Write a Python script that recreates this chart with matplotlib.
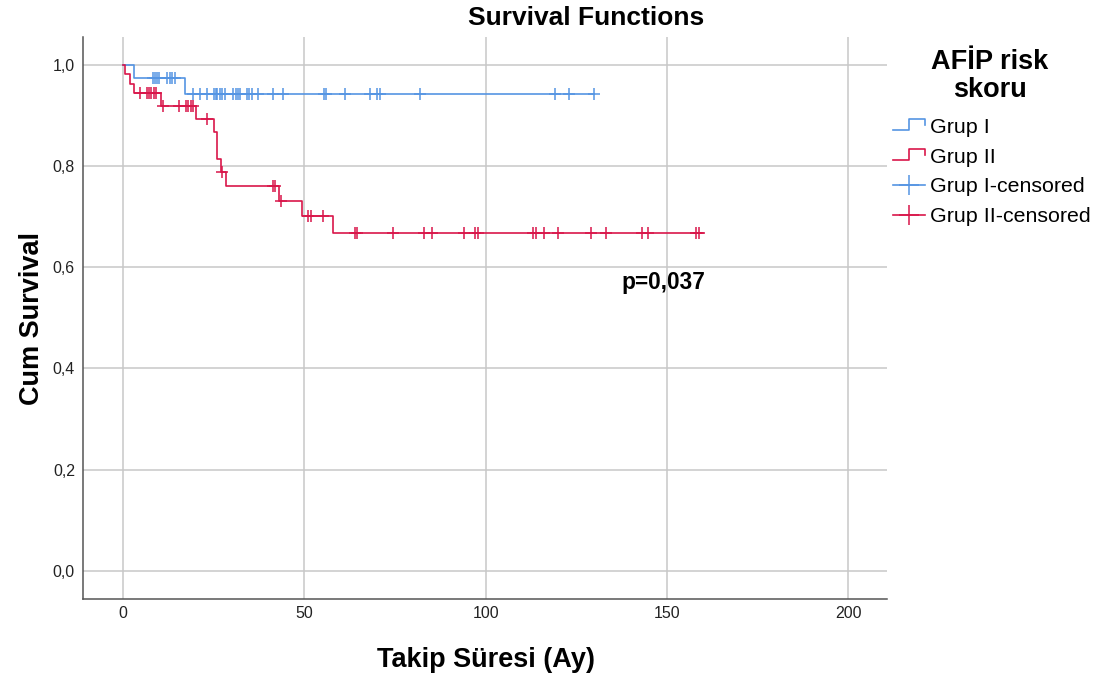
import matplotlib
matplotlib.use("Agg")
import matplotlib.pyplot as plt
import numpy as np
from matplotlib.lines import Line2D
from matplotlib.legend_handler import HandlerBase

plt.rcParams['font.family'] = ['Liberation Sans', 'DejaVu Sans']

###################################
# Data (time in months, cumulative survival)

# Grup I step curve
g1_times = [0, 2.9, 17.2, 130.0]
g1_surv = [1.0, 0.974, 0.942, 0.942]
g1_censored = [8.2, 8.8, 9.4, 10.0, 12.2, 12.9, 13.6, 14.3,
               19.4, 21.2, 23.1, 25.1, 25.6, 26.0, 26.6, 27.2, 28.1,
               30.4, 31.1, 31.6, 32.3, 34.1, 34.8, 35.5, 37.3, 41.3, 44.2,
               55.3, 56.0, 61.2, 68.1, 70.0, 70.9, 81.9, 119.2, 123.1, 130.0]

# Grup II step curve
g2_times = [0, 0.4, 2.0, 2.9, 10.4, 20.2, 25.2, 25.9, 27.0, 28.3, 43.1, 49.3, 58.0, 160.0]
g2_surv = [1.0, 0.982, 0.963, 0.944, 0.919, 0.894, 0.867, 0.814, 0.789, 0.761,
           0.731, 0.701, 0.667, 0.667]
g2_censored = [4.6, 6.5, 7.2, 7.8, 8.6, 9.2,
               11.1, 15.3, 17.4, 18.0, 18.7, 19.4, 23.1, 27.2, 41.3, 41.9, 43.6,
               51.1, 51.9, 55.1, 64.0, 64.5, 74.4, 83.0, 85.2, 94.1, 97.1, 98.0,
               113.2, 113.9, 116.1, 120.1, 129.0, 133.2, 143.1, 144.9, 158.1, 158.9]

groups = ['Grup I', 'Grup II']
colors = ['#5595e3', '#d9164a']

x_ticks = [0, 50, 100, 150, 200]
y_ticks = [0.0, 0.2, 0.4, 0.6, 0.8, 1.0]
y_tick_labels = ['0,0', '0,2', '0,4', '0,6', '0,8', '1,0']
p_text = 'p=0,037'


def level_at(times, surv, t):
    """survival level of a step curve at time t (right-continuous)"""
    idx = np.searchsorted(times, t, side='right') - 1
    return np.asarray(surv)[idx]


class StepHandler(HandlerBase):
    """draws the little step glyph SPSS uses in its legend"""
    def create_artists(self, legend, orig_handle, xdescent, ydescent,
                       width, height, fontsize, trans):
        w, h = width, height
        xs = np.array([0, 0.5 * w, 0.5 * w, w, w]) - xdescent
        ys = np.array([0.2 * h, 0.2 * h, 0.9 * h, 0.9 * h, 0.5 * h]) - ydescent
        line = Line2D(xs, ys, color=orig_handle.get_color(), lw=1.2)
        line.set_transform(trans)
        return [line]


###################################
# Figure

fig = plt.figure(figsize=(11, 6.81), dpi=100)
ax = fig.add_axes([0.0757, 0.1204, 0.7309, 0.8248])

ax.step(g1_times, g1_surv, where='post', color=colors[0], lw=1.2)
ax.step(g2_times, g2_surv, where='post', color=colors[1], lw=1.2)

ax.plot(g1_censored, level_at(g1_times, g1_surv, g1_censored), ls='none',
        marker='+', ms=8, mew=1.1, color=colors[0])
ax.plot(g2_censored, level_at(g2_times, g2_surv, g2_censored), ls='none',
        marker='+', ms=8, mew=1.1, color=colors[1])

ax.set_xlim(-11.0, 210.8)
ax.set_ylim(-0.056, 1.055)
ax.set_xticks(x_ticks)
ax.set_yticks(y_ticks)
ax.set_yticklabels(y_tick_labels)
ax.tick_params(length=0, labelsize=11.5, colors='#222222')
ax.tick_params(axis='x', pad=5)
ax.tick_params(axis='y', pad=6)
ax.grid(True, color='#c8c8c8', lw=1.1)
ax.set_axisbelow(True)
for side in ['top', 'right']:
    ax.spines[side].set_visible(False)
for side in ['left', 'bottom']:
    ax.spines[side].set_color('#555555')
    ax.spines[side].set_linewidth(1.1)

fig.text(586 / 1100, 1 - 18 / 681, 'Survival Functions', fontsize=19, fontweight='bold',
         ha='center', va='center')
ax.set_xlabel('Takip Süresi (Ay)', fontsize=19.5, fontweight='bold', va='center')
ax.xaxis.set_label_coords(0.501, -0.109)
ax.set_ylabel('Cum Survival', fontsize=19.5, fontweight='bold', va='center')
ax.yaxis.set_label_coords(-0.064, 0.5)

ax.text(137.5, 0.57, p_text, fontsize=16.3, fontweight='bold', va='center')

# Legend (title drawn as its own text so the spacing matches)
fig.text(990 / 1100, 1 - 76 / 681, 'AFİP risk\nskoru', fontsize=19.5, fontweight='bold',
         ha='center', va='center', multialignment='center', linespacing=1.12)

handles = [Line2D([], [], color=colors[0]), Line2D([], [], color=colors[1]),
           Line2D([], [], color=colors[0], lw=1.2, marker='+', ms=14, mew=1.1),
           Line2D([], [], color=colors[1], lw=1.2, marker='+', ms=14, mew=1.1)]
labels = [groups[0], groups[1], groups[0] + '-censored', groups[1] + '-censored']
leg = fig.legend(handles, labels, loc='center left', bbox_to_anchor=(893 / 1100, 1 - 172 / 681),
                 frameon=False, fontsize=15.4, borderpad=0, borderaxespad=0,
                 handlelength=1.5, handletextpad=0.23, labelspacing=0.5,
                 numpoints=1,
                 handler_map={handles[0]: StepHandler(), handles[1]: StepHandler()})

fig.savefig('out.png', dpi=100)
